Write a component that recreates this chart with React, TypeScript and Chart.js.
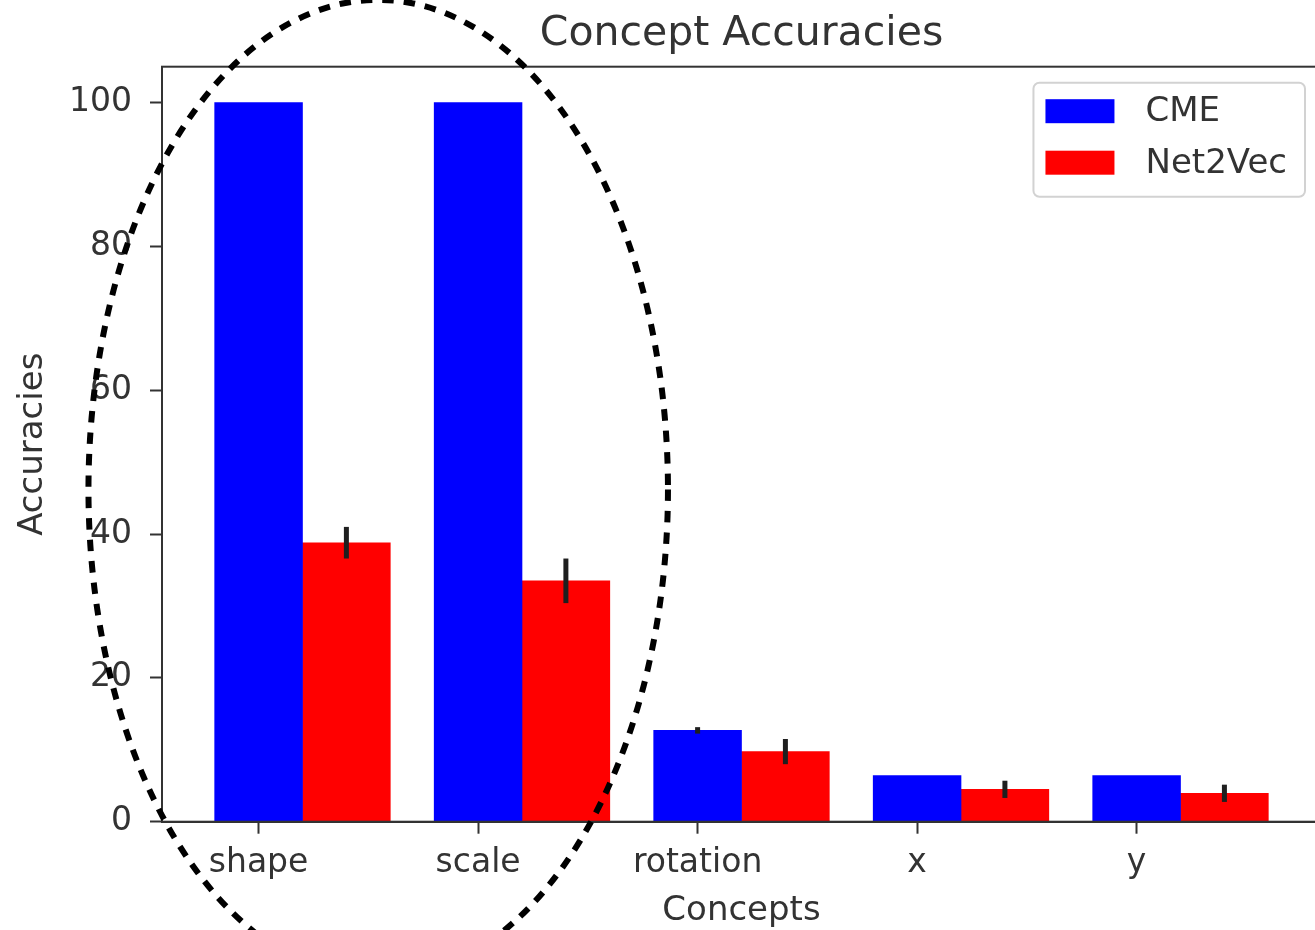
import React, { useEffect, useRef } from 'react';
import { Chart, registerables } from 'chart.js';

Chart.register(...registerables);

// ---- data ----
const categories = ['shape', 'scale', 'rotation', 'x', 'y'];
const cmeValues = [100, 100, 12.7, 6.4, 6.4];
const cmeErrors = [0, 0, 0.45, 0, 0];
const net2vecValues = [38.8, 33.5, 9.75, 4.5, 3.95];
const net2vecErrors = [2.2, 3.1, 1.75, 1.2, 1.2];
const yTicks = [0, 20, 40, 60, 80, 100];
const barWidth = 0.4;
const xRange = [-0.44, 4.84];
const yRange = [0, 105];
// dashed ellipse annotation, in data units
const highlight = { cx: 0.545, cy: 46.2, rx: 1.32, ry: 68.1 };

const FONT = "'DejaVu Sans', sans-serif";
const TEXT = '#333333';
const AXIS = '#333333';

const framePlugin = {
  id: 'frame',
  afterDatasetsDraw(chart: any) {
    const { ctx, chartArea: a } = chart;
    ctx.save();
    ctx.strokeStyle = AXIS;
    ctx.lineWidth = 2;
    ctx.strokeRect(a.left, a.top, a.right - a.left, a.bottom - a.top);
    ctx.restore();
  },
};

const errorBarPlugin = {
  id: 'errorBars',
  afterDatasetsDraw(chart: any) {
    const { ctx } = chart;
    const yScale = chart.scales.y;
    ctx.save();
    ctx.strokeStyle = '#1f1f1f';
    ctx.lineWidth = 5;
    ctx.lineCap = 'butt';
    chart.data.datasets.forEach((ds: any, di: number) => {
      const meta = chart.getDatasetMeta(di);
      const errs: number[] = ds.errors || [];
      meta.data.forEach((el: any, i: number) => {
        const e = errs[i];
        if (!e) return;
        const v = ds.data[i].y;
        ctx.beginPath();
        ctx.moveTo(el.x, yScale.getPixelForValue(v + e));
        ctx.lineTo(el.x, yScale.getPixelForValue(v - e));
        ctx.stroke();
      });
    });
    ctx.restore();
  },
};

const legendPlugin = {
  id: 'boxLegend',
  afterDraw(chart: any) {
    const { ctx, chartArea: a } = chart;
    const fontSize = 34;
    ctx.save();
    ctx.font = `${fontSize}px ${FONT}`;
    const labels = chart.data.datasets.map((d: any) => d.label);
    const textW = Math.max(...labels.map((l: string) => ctx.measureText(l).width));
    const padL = 12, patchW = 69, gap = 31, padR = 18, padT = 16.5, patchH = 24, pitch = 51.5, padB = 22;
    const w = padL + patchW + gap + textW + padR;
    const h = padT + patchH + pitch * (labels.length - 1) + padB;
    const x0 = a.right - 16 - w;
    const y0 = a.top + 16;
    ctx.beginPath();
    (ctx as any).roundRect(x0, y0, w, h, 6);
    ctx.fillStyle = 'rgba(255,255,255,0.85)';
    ctx.fill();
    ctx.strokeStyle = '#d2d2d2';
    ctx.lineWidth = 2;
    ctx.stroke();
    chart.data.datasets.forEach((d: any, i: number) => {
      const py = y0 + padT + i * pitch;
      ctx.fillStyle = d.backgroundColor;
      ctx.fillRect(x0 + padL, py, patchW, patchH);
      ctx.fillStyle = TEXT;
      ctx.textBaseline = 'middle';
      ctx.textAlign = 'left';
      ctx.fillText(d.label, x0 + padL + patchW + gap, py + patchH / 2 + 1);
    });
    ctx.restore();
  },
};

const ellipsePlugin = {
  id: 'highlightEllipse',
  afterDraw(chart: any) {
    const { ctx } = chart;
    const xs = chart.scales.x;
    const ys = chart.scales.y;
    const cx = xs.getPixelForValue(highlight.cx);
    const cy = ys.getPixelForValue(highlight.cy);
    const rx = Math.abs(xs.getPixelForValue(highlight.cx + highlight.rx) - cx);
    const ry = Math.abs(ys.getPixelForValue(highlight.cy + highlight.ry) - cy);
    ctx.save();
    ctx.strokeStyle = '#000000';
    ctx.lineWidth = 6;
    ctx.setLineDash([11.5, 10]);
    ctx.beginPath();
    ctx.ellipse(cx, cy, rx, ry, 0, 0, Math.PI * 2);
    ctx.stroke();
    ctx.restore();
  },
};

export default function App() {
  const ref = useRef<HTMLCanvasElement | null>(null);

  useEffect(() => {
    document.body.style.margin = '0';
    document.body.style.overflow = 'hidden';
    const canvas = ref.current;
    if (!canvas) return;

    const tickFont = { family: FONT, size: 33 };

    const chart = new Chart(canvas, {
      type: 'bar',
      data: {
        datasets: [
          {
            label: 'CME',
            data: categories.map((_, i) => ({ x: i, y: cmeValues[i] })),
            backgroundColor: '#0000ff',
            borderWidth: 0,
            grouped: false,
            categoryPercentage: 1,
            barPercentage: 1,
            errors: cmeErrors,
          } as any,
          {
            label: 'Net2Vec',
            data: categories.map((_, i) => ({ x: i + barWidth, y: net2vecValues[i] })),
            backgroundColor: '#ff0000',
            borderWidth: 0,
            grouped: false,
            categoryPercentage: 1,
            barPercentage: 1,
            errors: net2vecErrors,
          } as any,
        ],
      },
      options: {
        responsive: false,
        animation: false,
        events: [],
        layout: { padding: { left: 0, top: 0, right: 19, bottom: 0 } },
        plugins: {
          legend: { display: false },
          tooltip: { enabled: false },
          title: {
            display: true,
            text: 'Concept Accuracies',
            color: TEXT,
            font: { family: FONT, size: 41, weight: 'normal', lineHeight: 1.2 },
            padding: { top: 9.5, bottom: 8 },
            fullSize: false,
          } as any,
        },
        scales: {
          x: {
            type: 'linear',
            min: xRange[0],
            max: xRange[1],
            offset: false,
            afterBuildTicks: (s: any) => {
              s.ticks = categories.map((_, i) => ({ value: i }));
            },
            afterFit: (s: any) => {
              s.height = 108.3;
            },
            ticks: {
              callback: (_v: any, i: number) => categories[i] ?? '',
              font: tickFont,
              color: TEXT,
              padding: 10,
              maxRotation: 0,
              autoSkip: false,
            },
            grid: { drawOnChartArea: false, offset: false, tickLength: 12, tickWidth: 2, tickColor: AXIS },
            border: { color: AXIS, width: 2 },
            title: {
              display: true,
              text: 'Concepts',
              color: TEXT,
              font: { family: FONT, size: 34, lineHeight: 1 },
              padding: { top: 0, bottom: 1.8 },
            },
          } as any,
          y: {
            type: 'linear',
            min: yRange[0],
            max: yRange[1],
            afterBuildTicks: (s: any) => {
              s.ticks = yTicks.map((v) => ({ value: v }));
            },
            afterFit: (s: any) => {
              s.width = 162;
            },
            ticks: { font: tickFont, color: TEXT, padding: 18 },
            grid: { drawOnChartArea: false, tickLength: 12, tickWidth: 2, tickColor: AXIS },
            border: { color: AXIS, width: 2 },
            title: {
              display: true,
              text: 'Accuracies',
              color: TEXT,
              font: { family: FONT, size: 34, lineHeight: 1.2 },
              padding: { top: 12.8, bottom: 0 },
            },
          } as any,
        },
      },
      plugins: [framePlugin, errorBarPlugin, legendPlugin, ellipsePlugin],
    });

    return () => chart.destroy();
  }, []);

  return (
    <div style={{ width: 1315, height: 930, overflow: 'hidden', background: '#ffffff' }}>
      <canvas ref={ref} width={1340} height={930} style={{ display: 'block' }} />
    </div>
  );
}
